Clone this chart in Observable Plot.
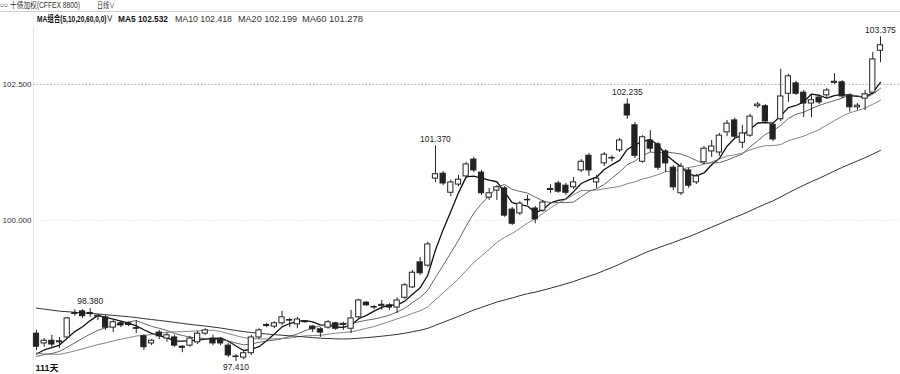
<!DOCTYPE html>
<html><head><meta charset="utf-8">
<script src="https://cdn.jsdelivr.net/npm/d3@7"></script>
<script src="https://cdn.jsdelivr.net/npm/@observablehq/plot@0.6"></script>
<style>
body{margin:0;background:#fff;}
#wrap{position:relative;width:900px;height:374px;overflow:hidden;font-family:"Liberation Sans",Arial,"Noto Sans CJK SC",sans-serif;}
#hdr{position:relative;height:26px;}
.t{position:absolute;white-space:nowrap;font-size:9px;line-height:10px;color:#333;transform-origin:0 50%;}
.b{font-weight:bold;color:#111;}
#rule{position:absolute;left:0;top:11px;width:900px;height:1px;background:#cfcfcf;}
#chart svg{display:block;}
</style></head><body>
<div id="wrap">
  <div id="hdr">
    <div class="t" data-w="8" style="left:0px;top:0px;font-size:7px;">▭▭</div>
    <div class="t" data-w="70" style="left:10px;top:0px;font-size:8.5px;">十债加权(CFFEX 8800)</div>
    <div class="t" data-w="18" style="left:97px;top:0px;font-size:8.5px;">日线∨</div>
    <div id="rule"></div>
    <div class="t b" data-w="76" style="left:37px;top:14px;">MA组合(5,10,20,60,0,0)∨</div>
    <div class="t b" data-w="50" id="ma0" style="left:118px;top:14px;"></div>
    <div class="t" data-w="57" id="ma1" style="left:175px;top:14px;"></div>
    <div class="t" data-w="59" id="ma2" style="left:238px;top:14px;"></div>
    <div class="t" data-w="61" id="ma3" style="left:302px;top:14px;"></div>
  </div>
  <div id="chart"></div>
</div>
<script>
// ---- data ----
const opens = [97.92,97.74,97.79,97.76,97.85,98.28,98.33,98.30,98.23,98.22,
98.03,98.11,98.11,98.02,97.87,97.74,97.94,97.83,97.85,97.68,
97.70,97.76,97.92,97.83,97.81,97.70,97.50,97.48,97.56,97.85,
98.08,98.05,98.11,98.17,98.09,98.15,98.05,98.00,98.03,98.11,
98.08,98.01,98.22,98.49,98.41,98.43,98.44,98.40,98.58,98.77,
99.23,99.17,100.77,100.86,100.51,100.66,100.81,101.12,100.88,100.42,
100.55,100.59,100.20,100.13,100.37,100.22,100.18,100.56,100.68,100.64,
100.61,100.92,101.19,100.70,101.05,101.14,101.29,102.13,101.75,101.08,
101.47,101.40,101.27,100.97,100.50,100.92,100.70,101.07,101.27,101.25,
101.62,101.84,101.43,101.56,102.10,102.10,101.76,101.86,102.33,102.52,
102.35,102.15,102.26,102.30,102.53,102.54,102.30,102.08,102.24,102.35,103.12];
const highs = [97.98,97.83,97.89,97.85,98.22,98.36,98.36,98.38,98.27,98.25,
98.16,98.14,98.13,98.16,97.90,97.81,97.98,97.94,97.89,97.70,
97.87,97.96,98.01,97.89,97.85,97.74,97.54,97.59,97.89,98.01,
98.11,98.14,98.33,98.20,98.22,98.16,98.07,98.03,98.16,98.13,
98.13,98.35,98.55,98.51,98.44,98.53,98.47,98.58,98.84,99.08,
99.32,99.60,101.37,100.90,100.74,100.83,101.07,101.16,100.92,100.59,
100.64,100.62,100.24,100.35,100.46,100.26,100.37,100.66,100.72,100.68,
100.79,101.12,101.23,100.83,101.25,101.19,101.51,102.235,101.80,101.56,
101.65,101.43,101.30,101.01,101.05,100.96,100.85,101.36,101.47,101.60,
101.84,101.88,101.75,101.95,102.17,102.13,101.80,102.78,102.69,102.56,
102.39,102.30,102.30,102.43,102.70,102.57,102.33,102.15,102.39,103.09,103.375];
const lows = [97.61,97.67,97.67,97.65,97.83,98.24,98.20,98.22,98.16,97.98,
97.94,98.03,98.05,97.92,97.61,97.70,97.81,97.76,97.67,97.57,
97.67,97.72,97.89,97.70,97.70,97.48,97.41,97.44,97.52,97.81,
98.03,98.01,98.07,98.03,98.01,98.11,97.94,97.85,98.00,97.98,
97.98,97.92,98.20,98.42,98.36,98.35,98.35,98.29,98.55,98.75,
98.99,99.14,100.70,100.64,100.44,100.62,100.77,100.88,100.46,100.37,
100.37,100.06,99.91,100.09,100.28,99.94,100.15,100.50,100.50,100.46,
100.57,100.88,100.81,100.59,100.99,101.08,101.25,101.86,101.14,101.05,
101.25,100.92,100.88,100.55,100.46,100.59,100.66,101.03,101.16,101.18,
101.54,101.49,101.32,101.53,102.06,101.78,101.45,101.82,102.17,102.30,
101.89,101.89,102.13,102.26,102.50,102.24,101.99,102.02,102.02,102.32,102.90];
const closes = [97.68,97.79,97.72,97.78,98.20,98.30,98.24,98.28,98.25,98.03,
98.13,98.07,98.08,98.01,97.67,97.79,97.87,97.89,97.70,97.66,
97.83,97.92,97.98,97.74,97.74,97.52,97.49,97.56,97.85,97.98,
98.06,98.11,98.22,98.16,98.18,98.13,98.00,97.94,98.13,98.01,
98.10,98.20,98.53,98.44,98.40,98.45,98.40,98.53,98.81,99.04,
99.03,99.56,100.85,100.68,100.70,100.75,101.03,100.92,100.50,100.50,
100.61,100.09,99.94,100.31,100.38,100.02,100.33,100.58,100.53,100.51,
100.70,101.08,100.92,100.77,101.21,101.15,101.47,101.93,101.19,101.53,
101.32,100.97,101.05,100.61,100.99,100.64,100.81,101.32,101.36,101.56,
101.78,101.54,101.60,101.91,102.13,101.82,101.49,102.28,102.65,102.33,
102.15,102.21,102.17,102.39,102.55,102.28,102.08,102.11,102.32,102.96,103.22];
// closes before the visible window (estimated so the moving averages start where the picture shows them)
const priorCloses = [98.90,98.85,98.92,98.80,98.88,98.95,98.86,98.82,98.90,98.84,
98.78,98.86,98.92,98.88,98.80,98.85,98.90,98.83,98.79,98.87,
98.93,98.86,98.81,98.84,98.90,98.85,98.78,98.82,98.88,98.84,
98.80,98.86,98.82,98.76,98.80,
98.70,98.62,98.50,98.35,98.20,98.05,97.90,97.78,97.66,97.58,
97.52,97.45,97.50,97.42,97.38,97.46,97.50,97.40,97.44,97.48,97.42,97.50,97.55,97.58];
const maPeriods = [5, 10, 20, 60];
const maLegendValues = [102.532, 102.418, 102.199, 101.278];
const yTicks = [100, 102.5];
const highLabelDays = [7, 52, 77, 110];
const lowLabelDays = [26];

// ---- legend text ----
maPeriods.forEach((p, k) => {
  document.getElementById("ma" + k).textContent = `MA${p} ${maLegendValues[k].toFixed(3)}`;
});
// fit header texts to their widths in the reference
document.querySelectorAll(".t[data-w]").forEach(el => {
  const w = el.getBoundingClientRect().width;
  const target = +el.dataset.w;
  if (w > 0) el.style.transform = `scaleX(${target / w})`;
});

// ---- build table ----
const all = priorCloses.concat(closes);
const off = priorCloses.length;
const bars = closes.map((c, i) => {
  const row = {i, open: opens[i], high: highs[i], low: lows[i], close: c, up: c >= opens[i]};
  for (const p of maPeriods) {
    const j = off + i;
    row["ma" + p] = d3.mean(all.slice(j - p + 1, j + 1));
  }
  return row;
});
const upBars = bars.filter(d => d.up);
const downBars = bars.filter(d => !d.up);
const hw = 0.34;

const xDomain = [-0.391, 112.61];
const yDomain = [97.169, 103.566];
const maStyles = {5: ["#111", 1.3], 10: ["#555", 0.9], 20: ["#777", 0.9], 60: ["#333", 1.0]};

const chart = Plot.plot({
  width: 900, height: 348,
  marginLeft: 33, marginRight: 0, marginTop: 0, marginBottom: 0,
  x: {domain: xDomain, axis: null},
  y: {domain: yDomain, axis: null},
  style: {fontFamily: "Liberation Sans, Arial, Noto Sans CJK SC, sans-serif", background: "#fff", overflow: "visible"},
  marks: [
    Plot.ruleX([xDomain[0]], {stroke: "#e8e8e8"}),
    Plot.ruleY([100], {stroke: "#e4e4e4", strokeDasharray: "1.5,2"}),
    Plot.ruleY([102.5], {stroke: "#b0b0b0", strokeDasharray: "1.5,2"}),
    Plot.text(yTicks, {x: xDomain[0], y: d => d, text: d => d3.format(".3f")(d), textAnchor: "end", dx: -2, fontSize: 8, fill: "#333"}),
    ...maPeriods.map(p => Plot.line(bars, {x: "i", y: "ma" + p, stroke: maStyles[p][0], strokeWidth: maStyles[p][1]})),
    Plot.ruleX(bars, {x: "i", y1: "low", y2: "high", stroke: "#222", strokeWidth: 1}),
    Plot.rect(downBars, {x1: d => d.i - hw, x2: d => d.i + hw, y1: "open", y2: "close", fill: "#222", stroke: "#222", strokeWidth: 1}),
    Plot.rect(upBars, {x1: d => d.i - hw, x2: d => d.i + hw, y1: "open", y2: "close", fill: "#fff", stroke: "#222", strokeWidth: 1}),
    Plot.text(highLabelDays.map(i => bars[i]), {x: "i", y: "high", text: d => d.high.toFixed(3), dy: -7, fontSize: 8.5, fill: "#222"}),
    Plot.text(lowLabelDays.map(i => bars[i]), {x: "i", y: "low", text: d => d.low.toFixed(3), dy: 6, fontSize: 8.5, fill: "#222"}),
    Plot.text([`${closes.length}天`], {frameAnchor: "bottom-left", dx: 2, dy: -4, lineAnchor: "bottom", fontSize: 9, fontWeight: "bold", fill: "#111"})
  ]
});
document.getElementById("chart").appendChild(chart);
</script>
</body></html>
